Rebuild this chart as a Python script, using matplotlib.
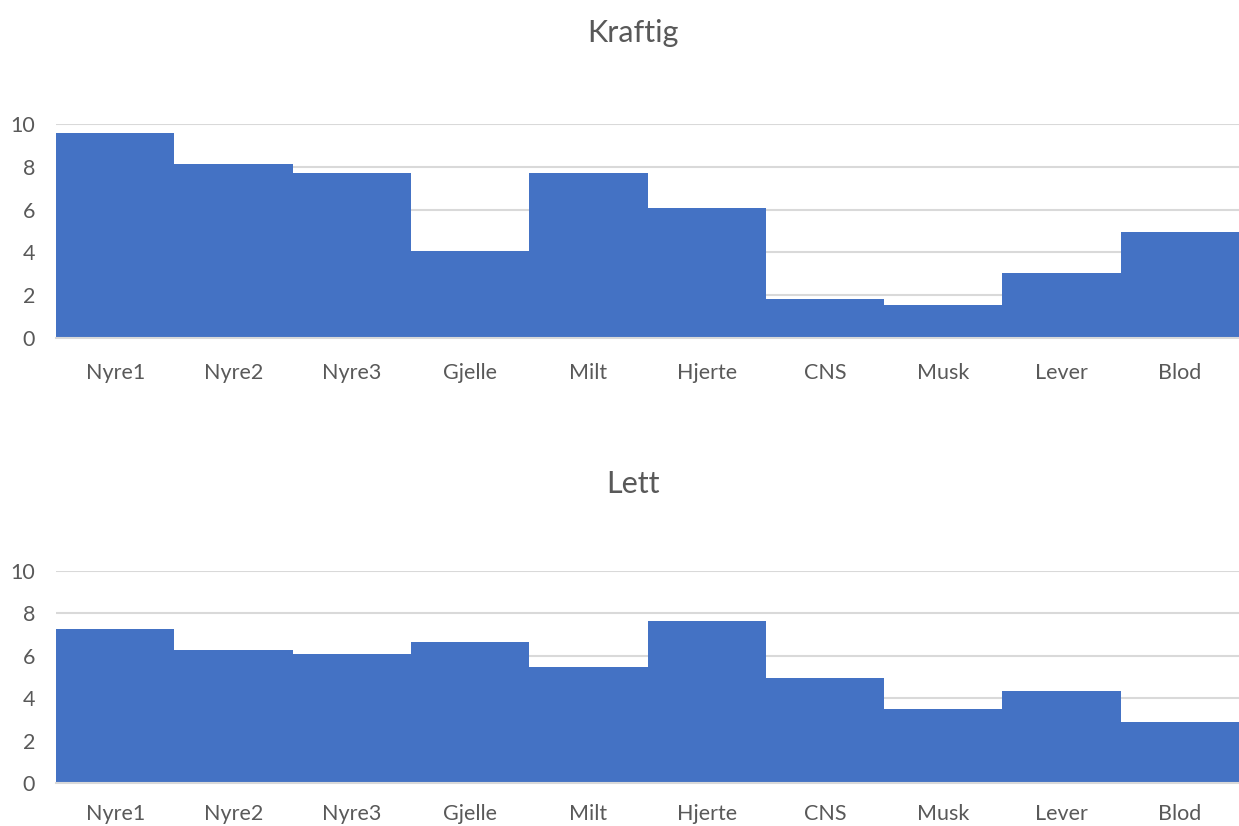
import numpy as np
import matplotlib
matplotlib.use('Agg')
import matplotlib.pyplot as plt

organs = ['Nyre1', 'Nyre2', 'Nyre3', 'Gjelle', 'Milt', 'Hjerte', 'CNS', 'Musk', 'Lever', 'Blod']
kraftig = [9.57, 8.13, 7.72, 4.05, 7.72, 6.09, 1.81, 1.54, 3.02, 4.94]
lett = [7.26, 6.28, 6.07, 6.66, 5.48, 7.62, 4.94, 3.49, 4.34, 2.90]
yticks = [0, 2, 4, 6, 8, 10]

plt.rcParams['font.family'] = ['Lato', 'DejaVu Sans']
grey = '#595959'
bar_col = '#4472C4'

fig = plt.figure(figsize=(12.39, 8.26), dpi=100)
ax1 = fig.add_axes([56 / 1239, 1 - 338 / 826, 1 - 56 / 1239, 214 / 826])
ax2 = fig.add_axes([56 / 1239, 1 - 783.3 / 826, 1 - 56 / 1239, 212.6 / 826])

x = np.arange(len(organs))
for ax, vals, title, ty, xpad in [(ax1, kraftig, 'Kraftig', 33, 18), (ax2, lett, 'Lett', 484, 15)]:
    ax.bar(x, vals, width=1.0, color=bar_col, zorder=2)
    ax.set_xlim(-0.5, len(organs) - 0.5)
    ax.set_ylim(0, 10)
    ax.set_yticks(yticks)
    ax.grid(axis='y', color='#D9D9D9', linewidth=1.5, zorder=0)
    ax.set_xticks(x)
    ax.set_xticklabels(organs)
    for s in ['top', 'right', 'left']:
        ax.spines[s].set_visible(False)
    ax.spines['bottom'].set_color('#D9D9D9')
    ax.spines['bottom'].set_linewidth(1.5)
    ax.tick_params(axis='both', length=0, labelsize=15.5, colors=grey)
    ax.tick_params(axis='x', pad=xpad)
    ax.tick_params(axis='y', pad=15)
    fig.text(633 / 1239, 1 - ty / 826, title, ha='center', va='center', fontsize=22, color=grey)

fig.savefig('out.png', dpi=100)
